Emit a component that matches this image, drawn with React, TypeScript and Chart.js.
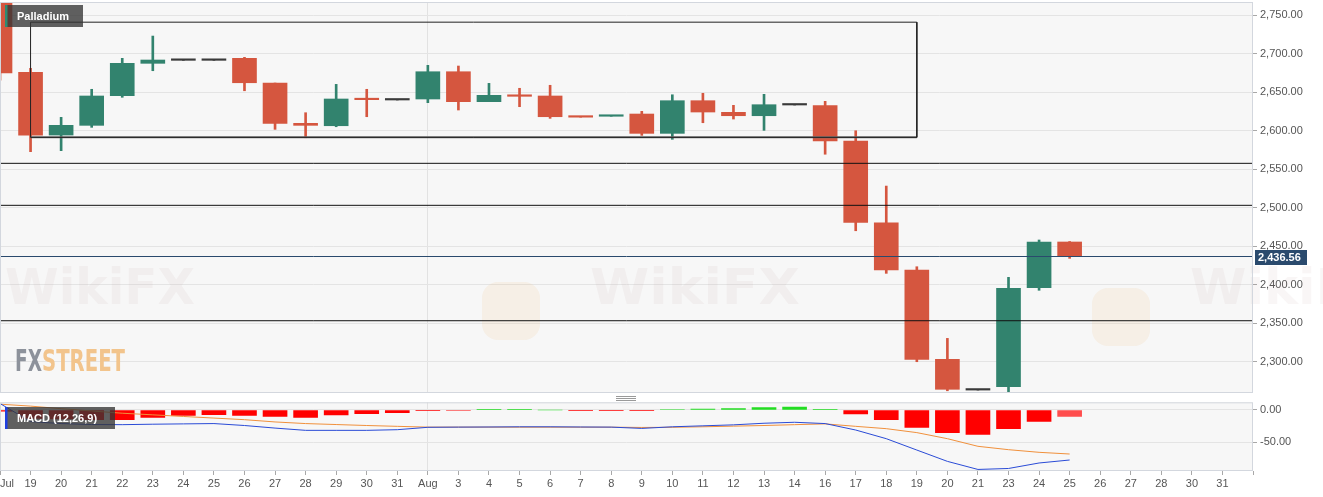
import React, { useEffect, useRef } from 'react';
import { Chart, registerables } from 'chart.js';

Chart.register(...registerables);

// ---------- data ----------
const xLabels = ['Jul', '19', '20', '21', '22', '23', '24', '25', '26', '27', '28', '29', '30', '31', 'Aug', '3', '4', '5', '6', '7', '8', '9', '10', '11', '12', '13', '14', '16', '17', '18', '19', '20', '21', '23', '24', '25', '26', '27', '28', '30', '31'];
const xMax = 41;

const opens = [2775, 2675.6, 2594.2, 2606.8, 2645.3, 2687.3, 2691.2, 2691.2, 2693.8, 2661.7, 2609.4, 2606.3, 2641.4, 2639.7, 2641.0, 2676.4, 2637.5, 2646.2, 2644.9, 2617.8, 2618.6, 2621.5, 2596.4, 2638.8, 2623.7, 2619.3, 2633.2, 2632.5, 2586.5, 2480.4, 2419.0, 2303.1, 2263.2, 2267.5, 2396.0, 2455.4];
const highs = [2780, 2680.8, 2617.2, 2653.6, 2693.8, 2722.7, 2691.2, 2691.2, 2695.1, 2661.7, 2623.2, 2660.0, 2653.6, 2639.7, 2684.7, 2683.8, 2661.3, 2654.9, 2658.8, 2617.8, 2619.0, 2625.0, 2646.5, 2648.4, 2632.8, 2647.1, 2633.2, 2638.0, 2599.8, 2528.0, 2423.3, 2330.3, 2263.2, 2409.5, 2458.0, 2456.0];
const lows = [2665.6, 2572.6, 2573.9, 2604.2, 2643.2, 2677.7, 2691.2, 2691.2, 2651.7, 2601.6, 2590.7, 2605.0, 2618.0, 2639.7, 2636.2, 2626.7, 2637.5, 2631.0, 2615.9, 2617.4, 2618.6, 2593.8, 2588.7, 2610.2, 2615.0, 2600.3, 2633.2, 2569.3, 2470.0, 2414.7, 2300.0, 2262.3, 2263.2, 2260.3, 2392.7, 2434.2];
const closes = [2674.7, 2594.2, 2606.8, 2644.9, 2687.3, 2691.6, 2691.2, 2691.2, 2662.1, 2609.4, 2606.8, 2641.0, 2640.1, 2639.7, 2676.4, 2637.5, 2645.8, 2644.5, 2618.0, 2617.4, 2619.0, 2596.4, 2638.8, 2624.1, 2619.3, 2633.6, 2633.2, 2586.5, 2480.9, 2419.0, 2303.1, 2264.2, 2263.2, 2395.2, 2455.4, 2436.56];

const levelLines = [2557.5, 2503.0, 2353.2];
const lastPrice = 2436.56;
const boxStart = 1;
const boxEnd = 30;
const boxTop = 2740.7;
const boxBottom = 2591.2;

const priceMin = 2259.4;
const priceMax = 2766.9;
const priceTicks = [2300, 2350, 2400, 2450, 2500, 2550, 2600, 2650, 2700, 2750];

const macdLine = [10, -18, -21, -22.5, -22.7, -22, -21.5, -21, -24, -28, -31.5, -31.5, -31.5, -30.5, -26.8, -26.5, -26.3, -26, -26, -26.3, -26.5, -28.5, -26, -24.5, -23, -20.5, -19, -21, -31, -44.4, -62, -79.5, -92, -90.5, -82, -77.4];
const signalLine = [9, 6, 2, -1.5, -5, -7.5, -10, -12.5, -15, -18.5, -21, -22.5, -24, -25.3, -26.5, -26.5, -26.5, -26.6, -26.6, -26.6, -26.6, -27, -26.8, -26, -25, -24, -22.7, -21.5, -25.3, -28.9, -35, -44.4, -56.2, -61.4, -65.5, -68.1];
const histogram = [-2, -13, -14, -15, -15, -11.4, -8.3, -7.2, -8.3, -9.8, -11.4, -7.7, -5.7, -4.1, -0.7, -0.8, 0.4, 1.2, 0, -0.4, -0.4, -1.2, 0.8, 1.5, 2, 3.6, 4.6, 1, -6.2, -15, -26.8, -35, -37.7, -28.9, -17.6, -9.8];
const macdMin = -94.4;
const macdMax = 11.9;
const macdTicks = [-50, 0];

// ---------- styles ----------
const RED = '#d5563f';
const GREEN = '#32836e';
const FLAT = '#3a3a3a';
const FONT = '"Liberation Sans", Arial, sans-serif';
const AXIS_W = 70;

const fmt = (v: number) =>
  Number(v).toLocaleString('en-US', { minimumFractionDigits: 2, maximumFractionDigits: 2 });

const candleColor = (i: number) =>
  closes[i] > opens[i] ? GREEN : closes[i] < opens[i] ? RED : FLAT;

const panelPlugin = (id: string, drawExtra: (chart: any) => void, drawUnder?: (chart: any) => void) => ({
  id,
  beforeDraw(chart: any) {
    const { ctx, chartArea: a } = chart;
    ctx.save();
    ctx.fillStyle = '#f7f7f7';
    ctx.fillRect(a.left, a.top, a.right - a.left, a.bottom - a.top);
    ctx.restore();
  },
  beforeDatasetsDraw(chart: any) {
    if (drawUnder) drawUnder(chart);
  },
  afterDraw(chart: any) {
    const { ctx, chartArea: a } = chart;
    ctx.save();
    ctx.strokeStyle = '#d3d7de';
    ctx.lineWidth = 1;
    ctx.strokeRect(a.left + 0.5, a.top + 0.5, a.right - a.left - 1, a.bottom - a.top - 1);
    ctx.restore();
    drawExtra(chart);
  },
});

const drawTag = (ctx: any, text: string, x: number, y: number, w: number, h: number, stripe: string) => {
  ctx.save();
  ctx.fillStyle = 'rgba(52,52,52,0.78)';
  ctx.fillRect(x, y, w, h);
  ctx.fillStyle = stripe;
  ctx.fillRect(x, y, 2.5, h);
  ctx.fillStyle = '#ffffff';
  ctx.font = `bold 11px ${FONT}`;
  ctx.textBaseline = 'middle';
  ctx.textAlign = 'left';
  ctx.fillText(text, x + 12, y + h / 2 + 1);
  ctx.restore();
};

const fitText = (ctx: any, text: string, x: number, y: number, width: number) => {
  const w = ctx.measureText(text).width;
  ctx.save();
  ctx.translate(x, y);
  ctx.scale(width / w, 1);
  ctx.fillText(text, 0, 0);
  ctx.restore();
};

const mainUnder = (chart: any) => {
  const { ctx } = chart;
  ctx.save();
  // WikiFX watermarks
  ctx.fillStyle = 'rgba(170,135,135,0.075)';
  ctx.font = 'bold 50px "DejaVu Sans", sans-serif';
  ctx.textBaseline = 'alphabetic';
  fitText(ctx, 'WikiFX', 5, 304, 190);
  fitText(ctx, 'WikiFX', 590, 304, 210);
  fitText(ctx, 'WikiFX', 1190, 304, 200);
  ctx.fillStyle = 'rgba(240,185,110,0.12)';
  const logo = (x: number, y: number) => {
    ctx.beginPath();
    ctx.roundRect(x, y, 58, 58, 16);
    ctx.fill();
  };
  logo(482, 282);
  logo(1092, 288);
  // FXSTREET logo
  ctx.font = 'bold 30px "Liberation Sans Narrow", "DejaVu Sans Condensed", "Liberation Sans", sans-serif';
  ctx.fillStyle = '#8d929b';
  fitText(ctx, 'FX', 15, 371, 27);
  ctx.fillStyle = '#f2c48c';
  fitText(ctx, 'STREET', 42, 371, 83);
  ctx.restore();
};

const mainExtra = (chart: any) => {
  const { ctx, scales } = chart;
  const y = scales.y.getPixelForValue(lastPrice);
  ctx.save();
  ctx.fillStyle = '#2a4a6d';
  ctx.fillRect(1255, Math.round(y) - 7, 52, 15);
  ctx.fillStyle = '#ffffff';
  ctx.font = `bold 11px ${FONT}`;
  ctx.textBaseline = 'middle';
  ctx.textAlign = 'left';
  ctx.fillText(fmt(lastPrice), 1258, Math.round(y) + 1);
  ctx.restore();
  drawTag(ctx, 'Palladium', 5, 5, 78, 22, '#2f8a72');
};

const macdExtra = (chart: any) => {
  drawTag(chart.ctx, 'MACD (12,26,9)', 5, 7, 110, 22, '#1f3fe0');
};

const fixY = (s: any) => {
  s.width = AXIS_W;
  s.paddingTop = 0;
  s.paddingBottom = 0;
};

const yAxis = (min: number, max: number, tickValues: number[]) => ({
  position: 'right',
  min,
  max,
  bounds: 'data',
  beginAtZero: false,
  afterBuildTicks: (s: any) => {
    s.ticks = tickValues.map((value) => ({ value }));
  },
  ticks: {
    callback: (v: any) => fmt(v),
    color: '#555',
    font: { family: FONT, size: 11 },
    padding: 3,
  },
  grid: { color: '#e4e4e4', tickLength: 4, tickColor: '#a8a8a8' },
  border: { display: false },
  afterFit: fixY,
});

const augGrid = (c: any) => (c.tick && c.tick.value === 14 ? '#e2e2e2' : 'rgba(0,0,0,0)');

function mainConfig(): any {
  const idx = opens.map((_, i) => i);
  const lineDs = (data: any[], color: string, width: number) => ({
    type: 'line',
    data,
    borderColor: color,
    borderWidth: width,
    pointRadius: 0,
    fill: false,
    tension: 0,
    order: 0,
  });
  return {
    type: 'bar',
    data: {
      datasets: [
        ...levelLines.map((v) => lineDs([{ x: 0, y: v }, { x: xMax, y: v }], '#111111', 1)),
        lineDs([{ x: 0, y: lastPrice }, { x: xMax, y: lastPrice }], '#2a4a6d', 1),
        lineDs(
          [
            { x: boxStart, y: boxTop },
            { x: boxEnd, y: boxTop },
            { x: boxEnd, y: boxBottom },
            { x: boxStart, y: boxBottom },
            { x: boxStart, y: boxTop },
          ],
          '#222222',
          1
        ),
        lineDs([{ x: boxStart, y: boxBottom }, { x: boxEnd, y: boxBottom }], '#6e6e6e', 2),
        {
          type: 'bar',
          data: idx.map((i) => ({ x: i, y: [opens[i], closes[i]] })),
          backgroundColor: idx.map(candleColor),
          barThickness: 24,
          minBarLength: 1.5,
          grouped: false,
          order: 2,
        },
        {
          type: 'bar',
          data: idx.map((i) => ({ x: i, y: [lows[i], highs[i]] })),
          backgroundColor: idx.map(candleColor),
          barThickness: 2,
          grouped: false,
          order: 3,
        },
      ],
    },
    options: {
      animation: false,
      responsive: false,
      maintainAspectRatio: false,
      events: [],
      layout: { padding: { top: 2, bottom: 3, left: 0, right: 0 } },
      plugins: { legend: { display: false }, tooltip: { enabled: false } },
      scales: {
        x: {
          type: 'linear',
          min: 0,
          max: xMax,
          bounds: 'data',
          offset: false,
          ticks: { display: false, stepSize: 1 },
          grid: { color: augGrid, drawTicks: false, offset: false },
          border: { display: false },
          afterFit: (s: any) => {
            s.height = 0;
            s.paddingLeft = 0;
            s.paddingRight = 0;
          },
        },
        y: yAxis(priceMin, priceMax, priceTicks),
      },
    },
    plugins: [panelPlugin('mainPanel', mainExtra, mainUnder)],
  };
}

function macdConfig(): any {
  const idx = histogram.map((_, i) => i);
  const histColor = (i: number) =>
    i === histogram.length - 1 ? '#ff4d4d' : histogram[i] >= 0 ? '#22dd22' : '#ff0000';
  return {
    type: 'bar',
    data: {
      datasets: [
        {
          type: 'line',
          data: idx.map((i) => ({ x: i, y: macdLine[i] })),
          borderColor: '#2a4bd6',
          borderWidth: 1,
          pointRadius: 0,
          fill: false,
          tension: 0,
          order: 0,
        },
        {
          type: 'line',
          data: idx.map((i) => ({ x: i, y: signalLine[i] })),
          borderColor: '#f0903c',
          borderWidth: 1,
          pointRadius: 0,
          fill: false,
          tension: 0,
          order: 1,
        },
        {
          type: 'bar',
          data: idx.map((i) => ({ x: i, y: histogram[i] })),
          backgroundColor: idx.map(histColor),
          barThickness: 24,
          grouped: false,
          order: 2,
        },
      ],
    },
    options: {
      animation: false,
      responsive: false,
      maintainAspectRatio: false,
      events: [],
      layout: { padding: { top: 2.3, bottom: 0, left: 0, right: 0 } },
      plugins: { legend: { display: false }, tooltip: { enabled: false } },
      scales: {
        x: {
          type: 'linear',
          min: 0,
          max: xMax,
          bounds: 'data',
          offset: false,
          ticks: {
            stepSize: 1,
            autoSkip: false,
            maxRotation: 0,
            align: 'inner',
            padding: 2,
            color: '#555',
            font: { family: FONT, size: 11 },
            callback: (v: any) => xLabels[v] ?? '',
          },
          grid: { color: augGrid, tickLength: 4, tickColor: '#a8a8a8', offset: false },
          border: { display: false },
          afterFit: (s: any) => {
            s.height = 26;
            s.paddingLeft = 0;
            s.paddingRight = 0;
          },
        },
        y: yAxis(macdMin, macdMax, macdTicks),
      },
    },
    plugins: [panelPlugin('macdPanel', macdExtra)],
  };
}

export default function App() {
  const mainRef = useRef<HTMLCanvasElement>(null);
  const macdRef = useRef<HTMLCanvasElement>(null);

  useEffect(() => {
    Chart.defaults.font.family = FONT;
    const main = new Chart(mainRef.current as HTMLCanvasElement, mainConfig());
    const macd = new Chart(macdRef.current as HTMLCanvasElement, macdConfig());
    return () => {
      main.destroy();
      macd.destroy();
    };
  }, []);

  const handleLine = (top: number) => (
    <div
      key={top}
      style={{ position: 'absolute', left: 616, top, width: 20, height: 1, background: '#9a9a9a' }}
    />
  );

  return (
    <div
      style={{
        position: 'absolute',
        left: 0,
        top: 0,
        width: 1323,
        height: 497,
        background: '#ffffff',
        overflow: 'hidden',
      }}
    >
      <canvas
        ref={mainRef}
        width={1323}
        height={396}
        style={{ position: 'absolute', left: 0, top: 0, width: 1323, height: 396 }}
      />
      <canvas
        ref={macdRef}
        width={1323}
        height={97}
        style={{ position: 'absolute', left: 0, top: 400, width: 1323, height: 97 }}
      />
      {[396, 398, 400].map(handleLine)}
    </div>
  );
}
